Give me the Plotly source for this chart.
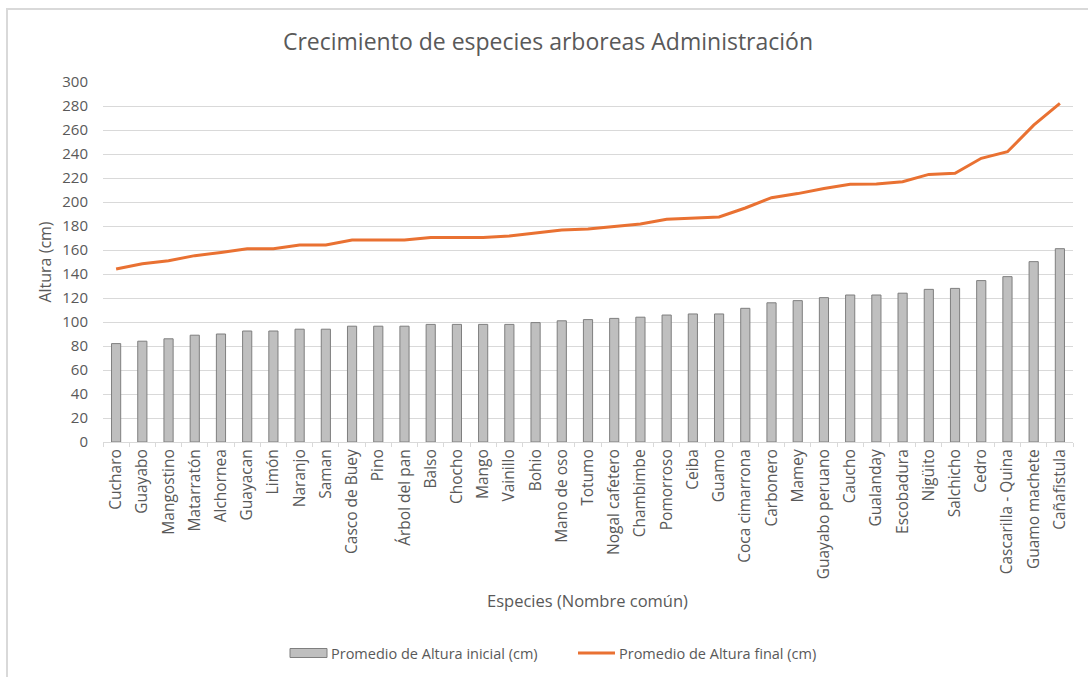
import plotly.graph_objects as go

# Species (common names), ordered by final height
especies = [
    "Cucharo", "Guayabo", "Mangostino", "Matarratón", "Alchornea", "Guayacan",
    "Limón", "Naranjo", "Saman", "Casco de Buey", "Pino", "Árbol del pan",
    "Balso", "Chocho", "Mango", "Vainillo", "Bohio", "Mano de oso", "Totumo",
    "Nogal cafetero", "Chambimbe", "Pomorroso", "Ceiba", "Guamo",
    "Coca cimarrona", "Carbonero", "Mamey", "Guayabo peruano", "Caucho",
    "Gualanday", "Escobadura", "Nigüito", "Salchicho", "Cedro",
    "Cascarilla - Quina", "Guamo machete", "Cañafistula",
]

# Average initial height (cm)
altura_inicial = [
    82, 84, 86, 89, 90, 92.5, 92.5, 94, 94, 96.5, 96.5, 96.5,
    98, 98, 98, 98, 99.5, 101, 102, 103, 104, 105.8, 106.7, 106.7,
    111.4, 116, 117.8, 120.3, 122.5, 122.5, 124, 127.2, 128, 134.5,
    137.8, 150.3, 161.1,
]

# Average final height (cm)
altura_final = [
    144.2, 148.5, 151, 155.3, 158, 161.1, 161.1, 164.2, 164.2, 168.3, 168.3, 168.3,
    170.5, 170.5, 170.5, 171.7, 173.9, 176.7, 177.5, 179.4, 181.7, 185.6, 186.4, 187.5,
    195, 203.6, 207, 211.2, 214.7, 215, 216.9, 223, 223.9, 236.4,
    241.9, 264, 282.2,
]

serie_inicial = "Promedio de Altura inicial (cm)"
serie_final = "Promedio de Altura final (cm)"

TXT = "#595959"
FONT = "Open Sans"
GRIS_BARRA = "#bfbfbf"
BORDE_BARRA = "#7f7f7f"
NARANJA = "#E97132"

W, H = 1088, 677
ML, MR, MT, MB = 103, 15, 82, 235
PW, PH = W - ML - MR, H - MT - MB


def px(x):
    """pixel column -> paper x"""
    return (x - ML) / PW


def py(y):
    """pixel row -> paper y"""
    return (H - MB - y) / PH


fig = go.Figure()

fig.add_trace(go.Bar(
    x=especies,
    y=altura_inicial,
    name=serie_inicial,
    marker=dict(color=GRIS_BARRA, line=dict(color=BORDE_BARRA, width=1)),
))

fig.add_trace(go.Scatter(
    x=especies,
    y=altura_final,
    name=serie_final,
    mode="lines",
    line=dict(color=NARANJA, width=3),
))

# legend drawn below the axis title: swatch + label for each series
leg_y = 653
legend_shapes = [
    dict(type="rect", xref="paper", yref="paper",
         x0=px(290), x1=px(327), y0=py(657.5), y1=py(648.5),
         line=dict(color=BORDE_BARRA, width=1), fillcolor=GRIS_BARRA),
    dict(type="line", xref="paper", yref="paper",
         x0=px(578), x1=px(615), y0=py(leg_y), y1=py(leg_y),
         line=dict(color=NARANJA, width=3)),
]
legend_labels = [
    dict(text=serie_inicial, xref="paper", yref="paper",
         x=px(329), y=py(leg_y), xanchor="left", yanchor="middle",
         showarrow=False, font=dict(size=14.5, color=TXT, family=FONT)),
    dict(text=serie_final, xref="paper", yref="paper",
         x=px(617), y=py(leg_y), xanchor="left", yanchor="middle",
         showarrow=False, font=dict(size=14.5, color=TXT, family=FONT)),
]

fig.update_layout(
    width=W,
    height=H,
    margin=dict(l=ML, r=MR, t=MT, b=MB),
    paper_bgcolor="white",
    plot_bgcolor="white",
    font=dict(family=FONT, color=TXT, size=13),
    bargap=0.65,
    title=dict(
        text="Crecimiento de especies arboreas Administración",
        x=548 / W, xanchor="center",
        y=1 - 42 / H, yanchor="middle", yref="container",
        font=dict(size=23, color=TXT, family=FONT),
    ),
    showlegend=False,
    xaxis=dict(
        type="category",
        tickangle=-90,
        tickfont=dict(size=15.5, color=TXT),
        showgrid=False,
        showline=True,
        linecolor="#d9d9d9",
        linewidth=1,
        ticks="outside",
        tickson="boundaries",
        ticklen=4,
        tickcolor="#d9d9d9",
        range=[-0.5, len(especies) - 0.5],
    ),
    yaxis=dict(
        range=[0, 300],
        dtick=20,
        tick0=0,
        showgrid=True,
        gridcolor="#d9d9d9",
        gridwidth=1,
        zeroline=False,
        tickfont=dict(size=15, color=TXT),
        ticks="",
        ticklabelstandoff=14,
        title=dict(text="Altura (cm)", font=dict(size=16, color=TXT), standoff=6),
    ),
    annotations=[
        dict(
            text="Especies (Nombre común)",
            xref="paper", yref="paper",
            x=px(587), y=py(600),
            xanchor="center", yanchor="middle",
            showarrow=False,
            font=dict(size=16.5, color=TXT, family=FONT),
        ),
        *legend_labels,
    ],
    shapes=[
        # chart-area frame (top and left edges visible)
        dict(
            type="rect", xref="paper", yref="paper",
            x0=px(7), x1=px(W + 40),
            y0=py(H + 40), y1=py(9),
            line=dict(color="#d9d9d9", width=2),
            fillcolor="rgba(0,0,0,0)",
            layer="below",
        ),
        *legend_shapes,
    ],
)

fig.write_html("out.html")
